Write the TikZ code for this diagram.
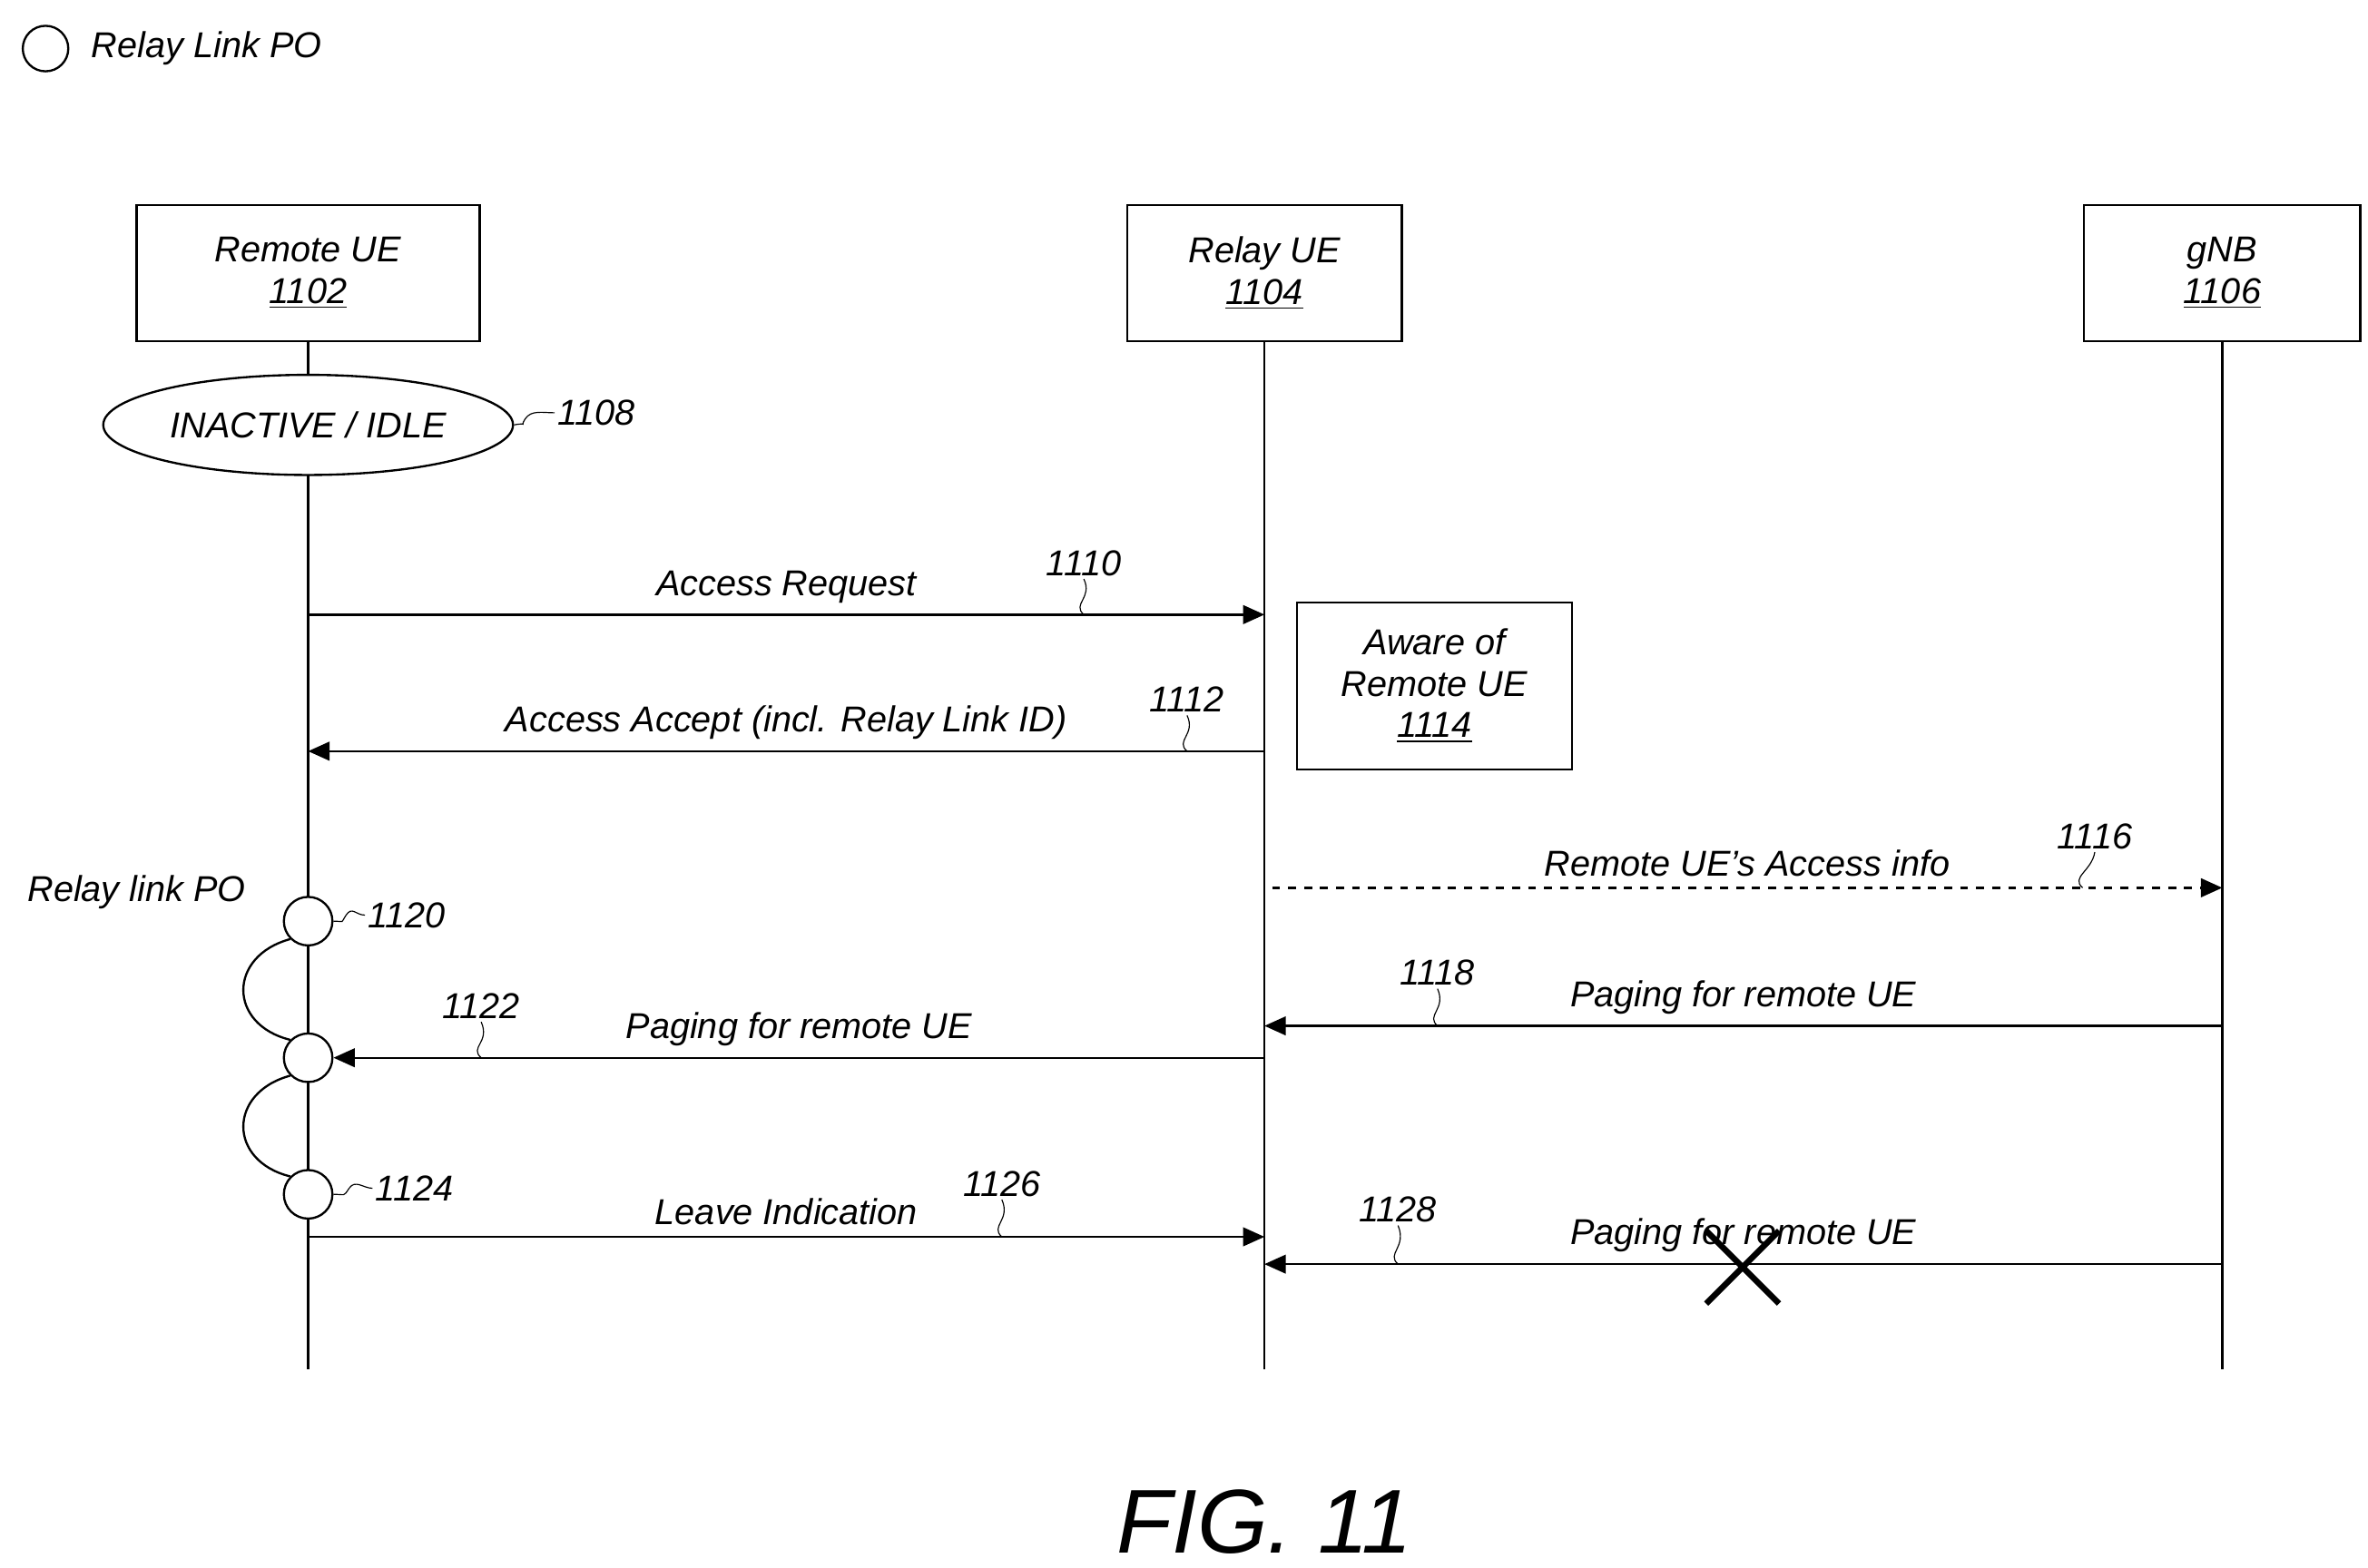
\documentclass[tikz,border=0pt]{standalone}
\usepackage{fontspec}
\setmainfont{Liberation Sans}
\usetikzlibrary{positioning,shapes.geometric,arrows.meta,calc}
\tikzset{
  ent/.style={rectangle,draw,thick,minimum width=4.52cm,minimum height=1.8cm,align=center,inner sep=0pt,font=\fontsize{13.5}{15.5}\selectfont\itshape},
  msg/.style={thick,-{Triangle[length=8pt,width=7pt]}},
  txt/.style={font=\fontsize{13.5}{15.5}\selectfont\itshape,inner sep=1pt},
  po/.style={circle,draw,thick,minimum size=0.64cm,inner sep=0pt,fill=white},
}
\begin{document}
\begin{tikzpicture}[x=0.02cm,y=-0.02cm]
\useasboundingbox (0,0) rectangle (1560,1033);
% legend
\node[po,minimum size=0.6cm] (leg) at (30,32) {};
\node[txt,right=0.25cm of leg] {Relay Link PO};
% entities
\node[ent] (rem) at (203,180) {Remote UE\\\underline{1102}};
\node[ent,minimum width=3.62cm] (rel) at (833,180) {Relay UE\\\underline{1104}};
\node[ent,minimum width=3.64cm] (gnb) at (1464,180) {gNB\\\underline{1106}};
\foreach \n/\x in {rem/203,rel/833,gnb/1464}{
  \coordinate (\n end) at (\x,902);
  \draw[thick] (\n.south) -- (\n end);
}
% state
\node[ellipse,draw,thick,fill=white,minimum width=5.4cm,minimum height=1.32cm,inner sep=0pt,txt] (idle) at (203,280) {INACTIVE / IDLE};
\node[txt] (l1108) at (393,272) {1108};
\draw[thin] (idle.east) .. controls +(10,-2) and +(-4,6) .. (346,276) .. controls +(4,-6) and +(-8,0) .. (l1108.west);
% access request
\coordinate (r1) at (203,405); \coordinate (q1) at (833,405);
\draw[msg] (r1) -- node[txt,above=3pt]{Access Request} (q1);
\node[txt] (l1110) at (714,371) {1110};
\draw[thin] (714,405) .. controls (706,398) and (720,394) .. (l1110.south);
% aware box
\node[ent,minimum width=3.62cm,minimum height=2.2cm] (aware) at (945,452) {Aware of\\Remote UE\\\underline{1114}};
% access accept
\coordinate (q2) at (833,495); \coordinate (r2) at (203,495);
\draw[msg] (q2) -- node[txt,above=3pt]{Access Accept (incl. Relay Link ID)} (r2);
\node[txt] (l1112) at (782,461) {1112};
\draw[thin] (782,495) .. controls (774,488) and (788,484) .. (l1112.south);
% access info
\coordinate (q3) at (838,585); \coordinate (g3) at (1464,585);
\draw[msg,dashed] (q3) -- node[txt,above=3pt]{Remote UE's Access info} (g3);
\node[txt] (l1116) at (1380,551) {1116};
\draw[thin] (1372,585) .. controls (1364,578) and (1378,574) .. (l1116.south);
% relay link PO
\node[txt] at (90,588) {Relay link PO};
\node[po] (p1) at (203,607) {};
\node[po] (p2) at (203,697) {};
\node[po] (p3) at (203,787) {};
\draw[thick] (p1.south west) .. controls (150,630) and (150,675) .. (p2.north west);
\draw[thick] (p2.south west) .. controls (150,720) and (150,765) .. (p3.north west);
\node[txt] (l1120) at (268,603) {1120};
\draw[thin] (p1.east) .. controls +(8,0) and +(-4,6) .. (228,603) .. controls +(4,-6) and +(-6,0) .. (l1120.west);
\node[txt] (l1124) at (273,783) {1124};
\draw[thin] (p3.east) .. controls +(8,0) and +(-4,6) .. (230,783) .. controls +(4,-6) and +(-6,0) .. (l1124.west);
% paging gNB -> relay
\coordinate (g4) at (1464,676); \coordinate (q4) at (833,676);
\draw[msg] (g4) -- node[txt,above=3pt,pos=0.5]{Paging for remote UE} (q4);
\node[txt] (l1118) at (947,641) {1118};
\draw[thin] (947,676) .. controls (939,669) and (953,665) .. (l1118.south);
% paging relay -> remote
\coordinate (q5) at (833,697);
\draw[msg] (q5) -- node[txt,above=3pt]{Paging for remote UE} (p2.east);
\node[txt] (l1122) at (317,663) {1122};
\draw[thin] (317,697) .. controls (309,690) and (323,687) .. (l1122.south);
% leave indication
\coordinate (r6) at (203,815); \coordinate (q6) at (833,815);
\draw[msg] (r6) -- node[txt,above=3pt]{Leave Indication} (q6);
\node[txt] (l1126) at (660,780) {1126};
\draw[thin] (660,815) .. controls (652,808) and (666,804) .. (l1126.south);
% failed paging
\coordinate (g7) at (1464,833); \coordinate (q7) at (833,833);
\draw[msg] (g7) -- node[txt,above=3pt]{Paging for remote UE} (q7);
\node[txt] (l1128) at (921,797) {1128};
\draw[thin] (921,833) .. controls (913,826) and (927,822) .. (l1128.south);
\coordinate (x) at (1148,835);
\draw[line width=2.2pt] ($(x)+(-24,-24)$) -- ($(x)+(24,24)$) ($(x)+(-24,24)$) -- ($(x)+(24,-24)$);
% caption
\node[font=\fontsize{34}{38}\selectfont\itshape] (fig) at (833,1003) {FIG. 11};
\end{tikzpicture}
\end{document}
